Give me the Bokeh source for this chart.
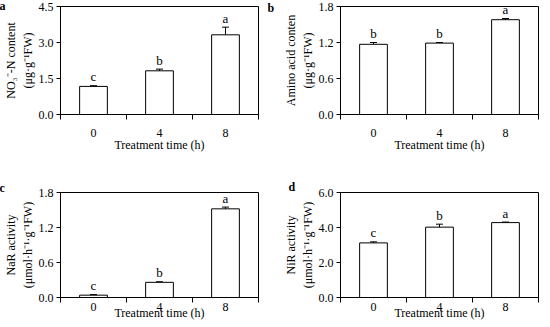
from bokeh.plotting import figure
from bokeh.models import (ColumnDataSource, Range1d, FixedTicker, Whisker, TeeHead, Title)
from bokeh.layouts import column, row
from bokeh.embed import file_html
from bokeh.resources import INLINE
from bokeh.core.properties import value

# ---- data ----
times = ["0", "4", "8"]
x_pos = [0.5, 1.5, 2.5]

no3 = [1.17, 1.82, 3.32]
no3_err = [0.03, 0.07, 0.32]
no3_sig = ["c", "b", "a"]

amino = [1.17, 1.19, 1.58]
amino_err = [0.03, 0.01, 0.02]
amino_sig = ["b", "b", "a"]

nar = [0.04, 0.26, 1.52]
nar_err = [0.01, 0.01, 0.03]
nar_sig = ["c", "b", "a"]

nir = [3.12, 4.02, 4.28]
nir_err = [0.06, 0.17, 0.03]
nir_sig = ["c", "b", "a"]

FONT = "Liberation Serif"


def panel(vals, errs, sig, yticks, ylabel, letter, letter_dx, letter_dy,
          top, bottom, left, right, fh, label_standoff, title_standoff):
    src = ColumnDataSource(dict(
        x=x_pos, top=vals,
        upper=[v + e for v, e in zip(vals, errs)],
        lower=[v - e for v, e in zip(vals, errs)],
        sig=sig,
    ))
    p = figure(frame_width=198, frame_height=fh, output_backend="svg",
               toolbar_location=None, x_range=Range1d(0, 3),
               y_range=Range1d(yticks[0], yticks[-1]),
               min_border_top=top, min_border_bottom=bottom,
               min_border_left=left, min_border_right=right)
    p.grid.visible = False
    p.outline_line_color = "black"
    p.outline_line_width = 1
    p.background_fill_color = "white"
    p.border_fill_color = "white"

    p.vbar(x="x", top="top", width=0.42, bottom=0, source=src,
           fill_color="white", line_color="black", line_width=1)
    w = Whisker(base="x", upper="upper", lower="lower", source=src,
                line_color="black", line_width=1,
                upper_head=TeeHead(size=7, line_color="black", line_width=1),
                lower_head=TeeHead(size=7, line_color="black", line_width=1))
    p.add_layout(w)
    p.text(x="x", y="upper", text="sig", source=src, text_align="center",
           text_baseline="alphabetic", y_offset=-9,
           text_font=value(FONT), text_font_size="13px", text_color="black")

    # x axis
    xa = p.xaxis[0]
    xa.ticker = FixedTicker(ticks=x_pos, minor_ticks=[0, 1, 2, 3])
    xa.major_label_overrides = {x: t for x, t in zip(x_pos, times)}
    xa.major_tick_out = 0
    xa.major_tick_in = 0
    xa.minor_tick_out = 5
    xa.minor_tick_in = 0
    xa.minor_tick_line_color = "black"
    xa.major_label_standoff = label_standoff
    xa.axis_label = "Treatment time (h)"
    xa.axis_label_standoff = title_standoff

    # y axis
    ya = p.yaxis[0]
    ya.ticker = FixedTicker(ticks=yticks)
    ya.major_label_overrides = {t: f"{t:.1f}" for t in yticks}
    ya.major_tick_out = 4
    ya.major_tick_in = 0
    ya.minor_tick_out = 0
    ya.minor_tick_in = 0
    ya.major_label_standoff = 3
    ya.axis_label = ylabel
    ya.axis_label_standoff = 1

    for a in (xa, ya):
        a.axis_line_color = "black"
        a.major_tick_line_color = "black"
        a.major_label_text_font = FONT
        a.major_label_text_font_size = "12px"
        a.major_label_text_color = "black"
        a.axis_label_text_font = FONT
        a.axis_label_text_font_size = "12px"
        a.axis_label_text_font_style = "normal"
        a.axis_label_text_color = "black"

    p.add_layout(Title(text=letter, align="left", offset=letter_dx,
                       text_font=FONT, text_font_size="12px",
                       text_font_style="bold", text_color="black",
                       standoff=letter_dy), "above")
    return p


pa = panel(no3, no3_err, no3_sig, [0.0, 1.5, 3.0, 4.5],
           "NO\u2083\u207b-N content\n(\u03bcg\u00b7g\u207b\u00b9FW)", "a", -61, -12,
           6, 33, 54, 6, 108, 9, -2)
pb = panel(amino, amino_err, amino_sig, [0.0, 0.6, 1.2, 1.8],
           "Amino acid conten\n(\u03bcg\u00b7g\u207b\u00b9FW)", "b", -73, -17,
           6, 33, 76, 2, 108, 9, -2)
pc = panel(nar, nar_err, nar_sig, [0.0, 0.6, 1.2, 1.8],
           "NaR activity\n(\u03bcmol\u00b7h\u207b\u00b9\u00b7g\u207b\u00b9FW)", "c", -61, -4,
           38, 21, 54, 6, 105, 0, -8)
pd_ = panel(nir, nir_err, nir_sig, [0.0, 2.0, 4.0, 6.0],
            "NiR activity\n(\u03bcmol\u00b7h\u207b\u00b9\u00b7g\u207b\u00b9FW)", "d", -52, -2,
            38, 21, 76, 2, 105, 0, -8)

layout = column(row(pa, pb), row(pc, pd_))
open("out.html", "w").write(file_html(layout, INLINE))
